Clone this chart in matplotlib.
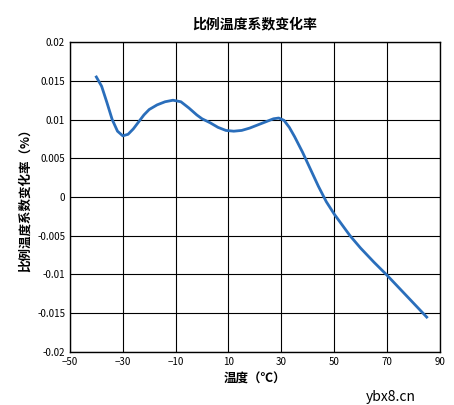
import matplotlib
matplotlib.use("Agg")
import matplotlib.pyplot as plt
plt.rcParams['font.family'] = ['Noto Sans CJK SC', 'DejaVu Sans']

temp = [-40,-38,-36,-34,-32,-30,-28,-26,-24,-22,-20,-17,-14,-11,-8,-5,-2,0,3,6,9,12,15,18,21,24,27,29,31,33,35,38,41,44,47,50,53,56,60,65,70,75,80,85]
coef = [0.0155,0.0143,0.0122,0.0100,0.0085,0.0079,0.0081,0.0088,0.0097,0.0106,0.0113,0.0119,0.0123,0.0125,0.0123,0.0115,0.0106,0.0101,0.0096,0.0090,0.0086,0.0085,0.0086,0.0089,0.0093,0.0097,0.0101,0.0102,0.0099,0.0090,0.0078,0.0058,0.0036,0.0014,-0.0006,-0.0022,-0.0036,-0.0050,-0.0066,-0.0084,-0.0101,-0.0119,-0.0137,-0.0155]
xticks = [-50,-30,-10,10,30,50,70,90]
yticks = [-0.02,-0.015,-0.01,-0.005,0,0.005,0.01,0.015,0.02]
ylabels = ['-0.02','-0.015','-0.01','-0.005','0','0.005','0.01','0.015','0.02']

fig = plt.figure(figsize=(4.54,4.05), dpi=100)
ax = fig.add_axes([0.154, 0.131, 0.815, 0.765])
ax.plot(temp, coef, color='#2a6ebb', lw=2, solid_joinstyle='round')
ax.set_xlim(-50,90); ax.set_ylim(-0.02,0.02)
ax.set_xticks(xticks); ax.set_yticks(yticks); ax.set_yticklabels(ylabels)
ax.grid(True, color='black', lw=0.8)
ax.tick_params(length=0, labelsize=7)
for s in ax.spines.values(): s.set_linewidth(1)
ax.set_title('比例温度系数变化率', fontsize=10, fontweight='bold', pad=10)
ax.set_xlabel('温度（℃）', fontsize=9, fontweight='bold')
ax.set_ylabel('比例温度系数变化率（%）', fontsize=9, fontweight='bold')
fig.text(0.86, 0.01, 'ybx8.cn', fontsize=10, color='black', ha='center')
fig.savefig('out.png')
